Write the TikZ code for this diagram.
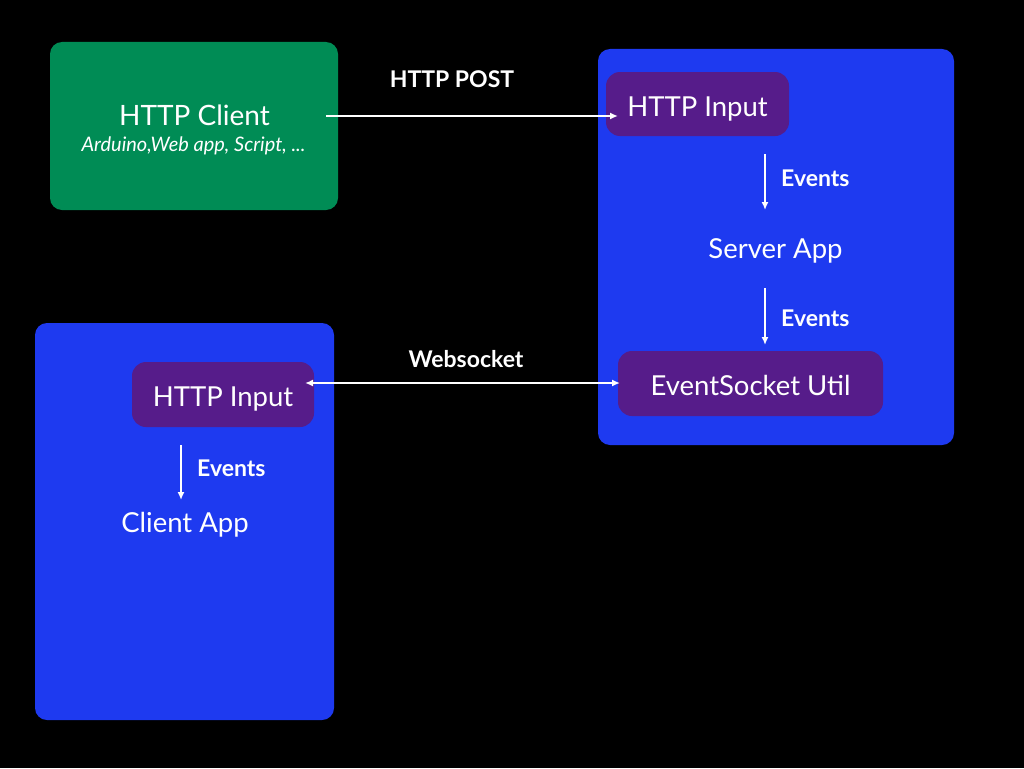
\documentclass[tikz,border=0pt]{standalone}
\usepackage{fontspec}
\setmainfont{Lato}
\usetikzlibrary{arrows.meta}
\definecolor{bggreen}{RGB}{0,140,85}
\definecolor{bgblue}{RGB}{30,58,240}
\definecolor{bgpurple}{RGB}{86,28,138}
\tikzset{
  panel/.style={draw=none, rounded corners=12pt, inner sep=0pt},
  inbox/.style={fill=bgpurple, draw=none, rounded corners=14pt, inner sep=0pt, text=white, text height=24pt, text depth=0pt, font=\fontsize{27.5}{30}\selectfont},
  bigtxt/.style={text=white, inner sep=0pt, font=\fontsize{27.5}{30}\selectfont},
  evt/.style={text=white, inner sep=0pt, font=\bfseries\fontsize{23}{25}\selectfont},
  flow/.style={white, line width=1.6pt, -{Latex[length=8pt,width=7pt]}},
  flow2/.style={white, line width=1.6pt, {Latex[length=8pt,width=7pt]}-{Latex[length=8pt,width=7pt]}}
}
\begin{document}
\begin{tikzpicture}[x=1pt,y=-1pt]
\fill[black] (0,0) rectangle (1024,768);
\useasboundingbox (0,0) rectangle (1024,768);
% panels
\node[panel, fill=bggreen, minimum width=288pt, minimum height=168pt] (client) at (194,126) {};
\node[panel, fill=bgblue, minimum width=356pt, minimum height=396pt] (server) at (776,247) {};
\node[panel, fill=bgblue, minimum width=299pt, minimum height=397pt] (clientbox) at (184.5,521.5) {};
% client texts
\node[bigtxt, anchor=base, font=\fontsize{28}{30}\selectfont] (ctitle) at (194.5,125) {HTTP Client};
\node[text=white, inner sep=0pt, anchor=base, font=\itshape\fontsize{20}{22}\selectfont] (csub) at (193.5,151) {Arduino,Web app, Script, ...};
% server side
\node[inbox, minimum width=183pt, minimum height=64pt] (in1) at (697.5,104) {HTTP Input};
\node[bigtxt, anchor=base] (sapp) at (775.5,258) {Server App};
\node[inbox, minimum width=265pt, minimum height=65pt] (esu) at (750.5,383.5) {EventSocket Util};
\node[evt, anchor=base west] (ev1) at (781,186) {Events};
\node[evt, anchor=base west] (ev2) at (781,326) {Events};
\coordinate (a1s) at (765,154);
\coordinate (a1e) at (765,210);
\coordinate (a2s) at (765,288);
\coordinate (a2e) at (765,345);
\draw[flow] (a1s) -- (a1e);
\draw[flow] (a2s) -- (a2e);
% client app side
\node[inbox, minimum width=182pt, minimum height=65pt] (in2) at (223,394.5) {HTTP Input};
\node[evt, anchor=base west] (ev3) at (197,476) {Events};
\node[bigtxt, anchor=base] (capp) at (185,532) {Client App};
\coordinate (a3s) at (181,445);
\coordinate (a3e) at (181,500);
\draw[flow] (a3s) -- (a3e);
% HTTP POST
\coordinate (p1) at (326,116);
\coordinate (p2) at (618,116);
\draw[flow] (p1) -- (p2);
\node[evt, anchor=base] (post) at (452,87) {HTTP POST};
% Websocket
\coordinate (w1) at (305,383);
\coordinate (w2) at (620,383);
\draw[flow2] (w1) -- (w2);
\node[evt, anchor=base] (ws) at (466,367) {Websocket};
\end{tikzpicture}
\end{document}
